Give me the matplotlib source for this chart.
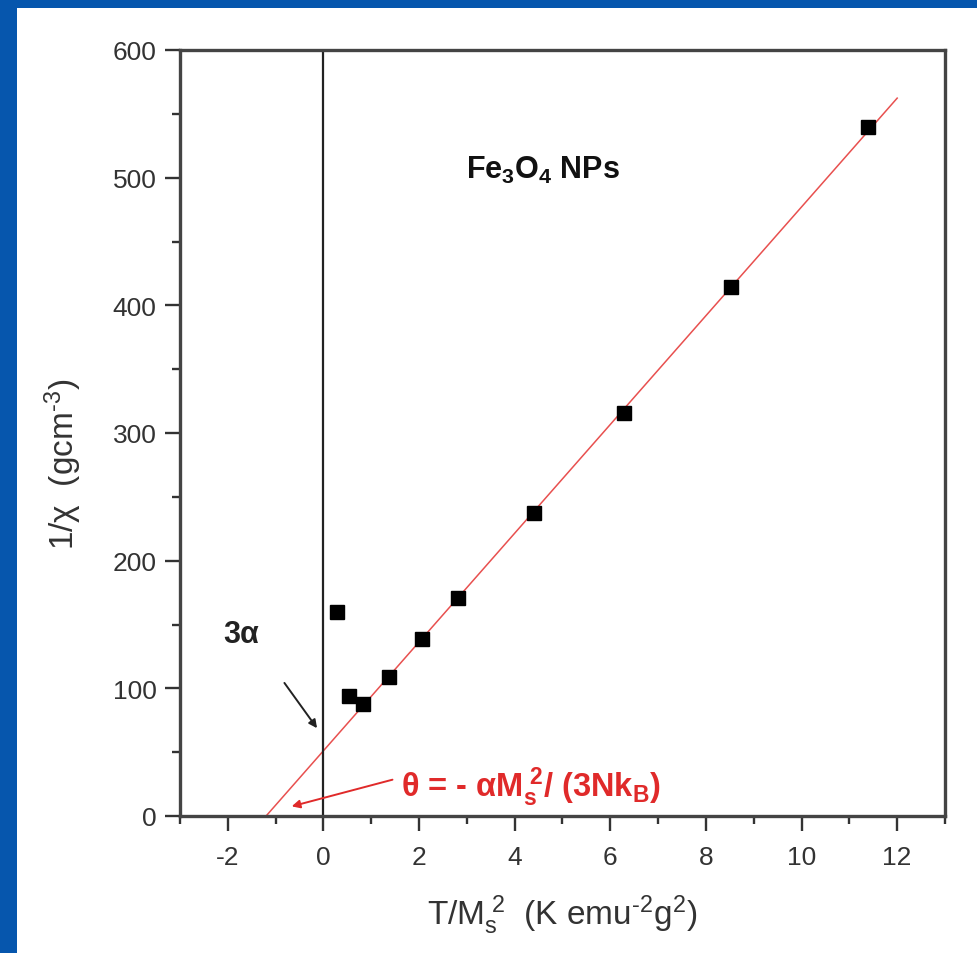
import matplotlib
matplotlib.use("Agg")
import matplotlib.pyplot as plt
import numpy as np

plt.rcParams['font.family'] = ['Liberation Sans', 'DejaVu Sans']
plt.rcParams['mathtext.fontset'] = 'custom'
plt.rcParams['mathtext.rm'] = 'Liberation Sans'
plt.rcParams['mathtext.it'] = 'Liberation Sans'
plt.rcParams['mathtext.bf'] = 'Liberation Sans:bold'
plt.rcParams['axes.unicode_minus'] = False

# data
x_vals = [0.29, 0.54, 0.83, 1.38, 2.07, 2.82, 4.40, 6.28, 8.52, 11.38]
y_vals = [160, 94, 88, 109, 139, 171, 237, 316, 414, 540]
fit_x = [-1.2, 12.0]
fit_slope = 42.6
fit_intercept = 51.1

x_ticks = [-2, 0, 2, 4, 6, 8, 10, 12]
y_ticks = [0, 100, 200, 300, 400, 500, 600]

W, H = 978, 954
fig = plt.figure(figsize=(W / 100, H / 100), dpi=100)
fig.patch.set_facecolor('#0656ad')
bg = fig.add_axes([17 / W, 0, 1 - 17 / W, 1 - 9 / H])
bg.set_facecolor('white')
bg.set_xticks([])
bg.set_yticks([])
for s in bg.spines.values():
    s.set_visible(False)
bg.set_zorder(0)

ax = fig.add_axes([180 / W, 1 - 817 / H, (945 - 180) / W, (817 - 51) / H])
ax.set_zorder(1)
ax.set_facecolor('white')

fx = np.array(fit_x)
ax.plot(fx, fit_slope * fx + fit_intercept, color='#e8504f', lw=1.1, zorder=2)
ax.plot([0, 0], [0, 600], color='#222222', lw=1.6, zorder=2)
ax.plot(x_vals, y_vals, 's', color='black', ms=10.5, zorder=3)

ax.set_xlim(-3, 13)
ax.set_ylim(0, 600)
ax.set_xticks(x_ticks)
ax.set_yticks(y_ticks)
ax.set_xticks(np.arange(-3, 14, 2), minor=True)
ax.set_yticks(np.arange(50, 600, 100), minor=True)
ax.tick_params(which='major', direction='out', length=11, width=1.7,
               labelsize=19, color='#333333', labelcolor='#333333', pad=6)
ax.tick_params(axis='x', which='major', pad=10)
ax.tick_params(which='minor', direction='out', length=6, width=1.7, color='#333333')
for s in ax.spines.values():
    s.set_linewidth(2.4)
    s.set_color('#444444')

ax.set_xlabel(r'T/M$_\mathregular{s}^\mathregular{\ 2}$  (K emu$^{\text{-2}}$g$^\mathregular{2}$)',
              fontsize=24, color='#333333')
ax.set_ylabel(r'1/χ  (gcm$^{\text{-3}}$)', fontsize=24, color='#333333')
ax.xaxis.set_label_coords(0.5, -0.100)
ax.yaxis.set_label_coords(-0.125, 0.46)

ax.text(4.6, 500, r'$\mathbf{Fe_3O_4}$ NPs', fontsize=22, fontweight='bold',
        ha='center', va='baseline', color='#111111')
ax.text(-1.73, 136, '3α', fontsize=22, fontweight='bold', ha='center',
        va='baseline', color='#222222')
ax.annotate('', xy=(-0.1, 67), xytext=(-0.85, 106),
            arrowprops=dict(arrowstyle='-|>', color='#222222', lw=1.4,
                            mutation_scale=12))
ax.text(1.62, 15.5, r'θ = - α$\mathbf{M_s^{\ 2}}$/ (3N$\mathbf{k_B}$)', fontsize=23.5,
        fontweight='bold', ha='left', va='baseline', color='#e02a2a')
ax.annotate('', xy=(-0.72, 7), xytext=(1.5, 29),
            arrowprops=dict(arrowstyle='-|>', color='#e02a2a', lw=1.4,
                            mutation_scale=12))

fig.savefig('out.png', dpi=100, facecolor=fig.get_facecolor())
